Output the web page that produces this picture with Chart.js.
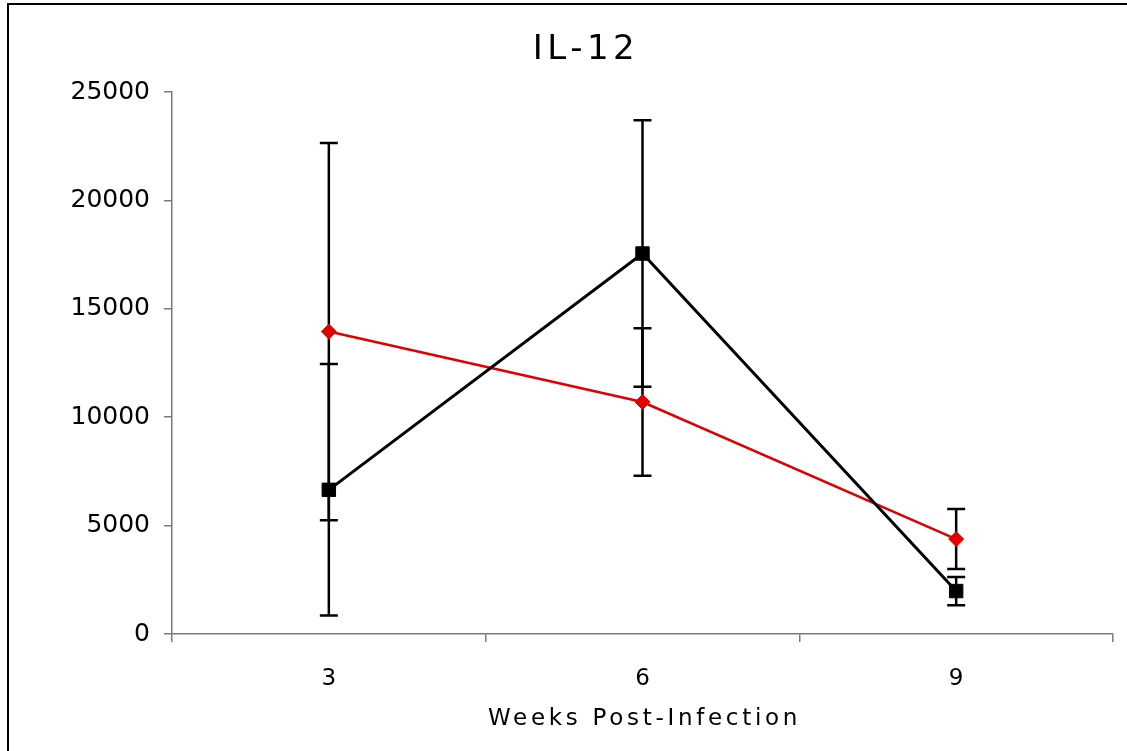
<!DOCTYPE html>
<html>
<head>
<meta charset="utf-8">
<title>IL-12</title>
<script src="https://cdn.jsdelivr.net/npm/chart.js@4"></script>
<style>
    html, body { margin: 0; padding: 0; background: #fff; overflow: hidden; }
    #wrap { position: relative; width: 1127px; height: 751px; overflow: hidden; }
    #chart { position: absolute; left: 0; top: 0; }
    #frame {
        position: absolute; left: 7px; top: 3px; width: 1200px; height: 800px;
        border-left: 2px solid #000; border-top: 2px solid #000; pointer-events: none;
    }
</style>
</head>
<body>
<div id="wrap">
    <canvas id="chart" width="1127" height="751"></canvas>
    <div id="frame"></div>
</div>
<script>
// Data
const weeks = ['3', '6', '9'];
const blackValues = [6650, 17550, 1980];
const blackErrors = [5800, 6150, 650];
const redValues = [13950, 10700, 4380];
const redErrors = [8700, 3400, 1380];
const yTicks = [0, 5000, 10000, 15000, 20000, 25000];

const titleText = 'IL-12';
const xTitleText = 'Weeks Post-Infection';
const fontFamily = '"DejaVu Sans", Verdana, sans-serif';
const axisGrey = '#7a7a7a';

// Excel style error bars, always black
const errorBars = {
    id: 'errorBars',
    beforeDatasetsDraw(chart) {
        const { ctx, scales: { x, y } } = chart;
        ctx.save();
        ctx.strokeStyle = '#000';
        ctx.lineWidth = 2.5;
        chart.data.datasets.forEach(ds => {
            ds.data.forEach((v, i) => {
                const px = x.getPixelForValue(i);
                const top = y.getPixelForValue(v + ds.errors[i]);
                const bot = y.getPixelForValue(v - ds.errors[i]);
                ctx.beginPath();
                ctx.moveTo(px, top); ctx.lineTo(px, bot);
                ctx.moveTo(px - 9, top); ctx.lineTo(px + 9, top);
                ctx.moveTo(px - 9, bot); ctx.lineTo(px + 9, bot);
                ctx.stroke();
            });
        });
        ctx.restore();
    }
};

// title and axis title, drawn with wide letter spacing like the original
const titles = {
    id: 'titles',
    afterDraw(chart) {
        const { ctx, chartArea } = chart;
        ctx.save();
        ctx.fillStyle = '#000';
        ctx.textAlign = 'center';
        ctx.textBaseline = 'middle';
        ctx.font = '34px ' + fontFamily;
        ctx.letterSpacing = '4.5px';
        ctx.fillText(titleText, 586, 50);
        ctx.font = '23px ' + fontFamily;
        ctx.letterSpacing = '3.7px';
        ctx.fillText(xTitleText, (chartArea.left + chartArea.right) / 2 + 2, 719);
        ctx.restore();
    }
};

const ctx = document.getElementById('chart').getContext('2d');

new Chart(ctx, {
    type: 'line',
    data: {
        labels: weeks,
        datasets: [{
            label: 'Series 1',
            data: blackValues,
            errors: blackErrors,
            borderColor: '#000',
            borderWidth: 3,
            backgroundColor: '#000',
            pointStyle: 'rect',
            pointRadius: 9.5,
            pointBorderWidth: 1,
            pointBorderColor: '#000',
            tension: 0
        }, {
            label: 'Series 2',
            data: redValues,
            errors: redErrors,
            borderColor: '#e00000',
            borderWidth: 2.5,
            backgroundColor: '#e00000',
            pointStyle: 'rectRot',
            pointRadius: 7.5,
            pointBorderWidth: 1,
            pointBorderColor: '#e00000',
            tension: 0
        }]
    },
    options: {
        responsive: false,
        animation: false,
        layout: { padding: { left: 55, right: 14, top: 92, bottom: 0 } },
        plugins: {
            legend: { display: false },
            title: { display: false },
            tooltip: { enabled: false }
        },
        scales: {
            x: {
                offset: true,
                afterFit: scale => { scale.height = 117; },
                border: { color: axisGrey, width: 1.5 },
                grid: {
                    offset: true,
                    drawOnChartArea: false,
                    drawTicks: true,
                    tickLength: 8,
                    color: axisGrey,
                    lineWidth: 1.5
                },
                ticks: {
                    color: '#000',
                    padding: 23,
                    maxRotation: 0,
                    font: { family: fontFamily, size: 23 }
                }
            },
            y: {
                min: yTicks[0],
                max: yTicks[yTicks.length - 1],
                afterFit: scale => { scale.width = 117; },
                border: { color: axisGrey, width: 1.5 },
                grid: {
                    drawOnChartArea: false,
                    drawTicks: true,
                    tickLength: 8,
                    color: axisGrey,
                    lineWidth: 1.5
                },
                ticks: {
                    stepSize: yTicks[1] - yTicks[0],
                    color: '#000',
                    padding: 14,
                    font: { family: fontFamily, size: 25 },
                    callback: v => String(v)
                }
            }
        }
    },
    plugins: [errorBars, titles]
});
</script>
</body>
</html>
